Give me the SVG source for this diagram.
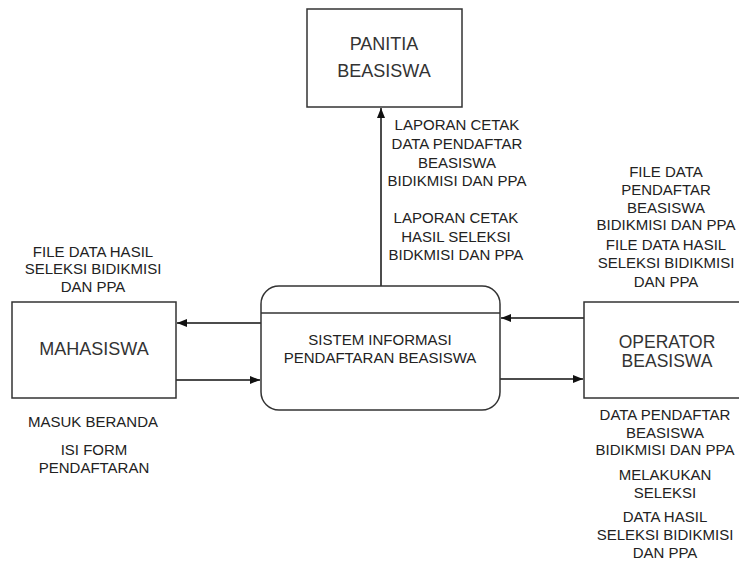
<svg xmlns="http://www.w3.org/2000/svg" width="739" height="562" viewBox="0 0 739 562">
<style>
.box{fill:#fff;stroke:#333;stroke-width:1.5}
.t{font-family:"Liberation Sans",Arial,sans-serif;font-size:15px;fill:#222;text-anchor:middle}
.tb{font-family:"Liberation Sans",Arial,sans-serif;font-size:18px;fill:#333;text-anchor:middle}
.ln{stroke:#111;stroke-width:1.5;fill:none;marker-end:url(#ah)}
</style>
<defs>
<marker id="ah" viewBox="0 0 10 8" refX="10" refY="4" markerWidth="10" markerHeight="8" markerUnits="userSpaceOnUse" orient="auto">
<path d="M0,0 L10,4 L0,8 Z" fill="#111"/>
</marker>
</defs>
<rect width="739" height="562" fill="#fff"/>
<g id="connectors">
<line class="ln" x1="381" y1="286" x2="381" y2="108"/>
<line class="ln" x1="261" y1="323" x2="177" y2="323"/>
<line class="ln" x1="176" y1="380" x2="260" y2="380"/>
<line class="ln" x1="584" y1="318" x2="501" y2="318"/>
<line class="ln" x1="500" y1="379" x2="583" y2="379"/>
</g>
<g id="panitia">
<rect class="box" x="307" y="9" width="155" height="98"/>
<text class="tb" x="384" y="50">PANITIA</text>
<text class="tb" x="384" y="77">BEASISWA</text>
</g>
<g id="mahasiswa">
<rect class="box" x="12" y="302" width="164" height="96"/>
<text class="tb" x="94" y="355">MAHASISWA</text>
</g>
<g id="sistem">
<rect class="box" x="261" y="286" width="239" height="124" rx="18" ry="18"/>
<line x1="261" y1="313" x2="500" y2="313" stroke="#333" stroke-width="1.5"/>
<text class="t" x="380" y="345">SISTEM INFORMASI</text>
<text class="t" x="380" y="363">PENDAFTARAN BEASISWA</text>
</g>
<g id="operator">
<rect class="box" x="584" y="302" width="170" height="96"/>
<text class="tb" x="667" y="348" style="font-size:17.5px">OPERATOR</text>
<text class="tb" x="667" y="367" style="font-size:17.5px">BEASISWA</text>
</g>
<g id="labels">
<text class="t" x="457" y="130">LAPORAN CETAK</text>
<text class="t" x="457" y="149">DATA PENDAFTAR</text>
<text class="t" x="457" y="168">BEASISWA</text>
<text class="t" x="457" y="186">BIDIKMISI DAN PPA</text>
<text class="t" x="456" y="223">LAPORAN CETAK</text>
<text class="t" x="456" y="242">HASIL SELEKSI</text>
<text class="t" x="456" y="260">BIDKMISI DAN PPA</text>

<text class="t" x="93" y="257">FILE DATA HASIL</text>
<text class="t" x="93" y="274">SELEKSI BIDIKMISI</text>
<text class="t" x="93" y="292">DAN PPA</text>

<text class="t" x="93" y="427">MASUK BERANDA</text>
<text class="t" x="94" y="455">ISI FORM</text>
<text class="t" x="94" y="473">PENDAFTARAN</text>

<text class="t" x="666" y="177">FILE DATA</text>
<text class="t" x="666" y="195">PENDAFTAR</text>
<text class="t" x="666" y="213">BEASISWA</text>
<text class="t" x="666" y="230">BIDIKMISI DAN PPA</text>
<text class="t" x="666" y="250">FILE DATA HASIL</text>
<text class="t" x="666" y="268">SELEKSI BIDIKMISI</text>
<text class="t" x="666" y="287">DAN PPA</text>

<text class="t" x="665" y="420">DATA PENDAFTAR</text>
<text class="t" x="665" y="438">BEASISWA</text>
<text class="t" x="665" y="455">BIDIKMISI DAN PPA</text>
<text class="t" x="665" y="480">MELAKUKAN</text>
<text class="t" x="665" y="498">SELEKSI</text>
<text class="t" x="665" y="522">DATA HASIL</text>
<text class="t" x="665" y="540">SELEKSI BIDIKMISI</text>
<text class="t" x="665" y="558">DAN PPA</text>
</g>
</svg>
